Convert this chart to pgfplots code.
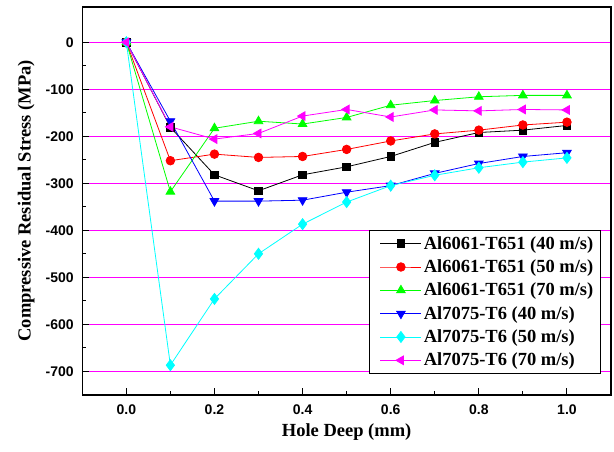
\documentclass[border=0pt]{standalone}
\usepackage{fontspec}
\setmainfont{Liberation Serif}
\setsansfont{Liberation Sans}
\usepackage{pgfplots}
\pgfplotsset{compat=1.18}
\definecolor{cgreen}{RGB}{0,255,0}
\definecolor{ccyan}{RGB}{0,255,255}
\definecolor{cmag}{RGB}{255,0,255}
\definecolor{cblue}{RGB}{0,0,255}
\definecolor{cred}{RGB}{255,0,0}
\begin{document}
\begin{tikzpicture}
\begin{axis}[name=ax, scale only axis, width=529pt, height=388pt,
  xmin=-0.1, xmax=1.1, ymin=-750, ymax=75,
  xtick={0,0.2,0.4,0.6,0.8,1.0}, minor x tick num=1,
  xticklabels={0.0,0.2,0.4,0.6,0.8,1.0},
  ytick={-700,-600,-500,-400,-300,-200,-100,0}, minor y tick num=1,
  yticklabels={-700,-600,-500,-400,-300,-200,-100,0},
  tick align=inside, tick pos=left,
  major tick length=7pt, minor tick length=4pt,
  axis line style={line width=1.4pt},
  every tick/.style={black, line width=1.1pt},
  ymajorgrids, major grid style={cmag, line width=0.9pt},
  xticklabel style={font=\sffamily\bfseries\fontsize{14}{16}\selectfont},
  yticklabel style={font=\sffamily\bfseries\fontsize{14}{16}\selectfont},
  xticklabel shift=6.8pt, yticklabel shift=5pt,
  xlabel={Hole Deep (mm)}, ylabel={Compressive Residual Stress (MPa)},
  label style={font=\bfseries\fontsize{18.5}{22}\selectfont},
  xlabel style={at={(axis description cs:0.5,-0.0954)}, anchor=center},
  ylabel style={at={(axis description cs:-0.106,0.5)}, anchor=center},
  legend style={at={(rel axis cs:0.9805,0.054)}, anchor=south east,
    font=\bfseries\fontsize{18.5}{22}\selectfont, draw=black, line width=0.8pt,
    row sep=5pt, inner xsep=5pt, inner ysep=4pt},
  legend cell align=left,
  legend image code/.code={\path (-6pt,0pt); \draw[mark repeat=2,mark phase=2] plot coordinates {(0pt,0pt)(20.5pt,0pt)(41pt,0pt)};},
  every axis plot/.append style={line width=0.8pt},
]
\addplot[black, mark=square*, mark size=3.8pt, mark options={fill=black, draw=black}] coordinates {
(0,0)(0.1,-181)(0.2,-282)(0.3,-316)(0.4,-282)(0.5,-265)(0.6,-243)(0.7,-213)(0.8,-192)(0.9,-187)(1.0,-177)};
\addlegendentry{Al6061-T651 (40 m/s)}
\addplot[cred, mark=*, mark size=4.3pt, mark options={fill=cred, draw=cred}] coordinates {
(0,0)(0.1,-252)(0.2,-238)(0.3,-245)(0.4,-243)(0.5,-228)(0.6,-210)(0.7,-195)(0.8,-187)(0.9,-176)(1.0,-170)};
\addlegendentry{Al6061-T651 (50 m/s)}
\addplot[cgreen, mark=triangle*, mark size=5pt, mark options={fill=cgreen, draw=cgreen}] coordinates {
(0,0)(0.1,-318)(0.2,-183)(0.3,-168)(0.4,-174)(0.5,-160)(0.6,-134)(0.7,-124)(0.8,-116)(0.9,-113)(1.0,-113)};
\addlegendentry{Al6061-T651 (70 m/s)}
\addplot[cblue, mark=triangle*, mark size=5pt, mark options={fill=cblue, draw=cblue, rotate=180}] coordinates {
(0,0)(0.1,-168)(0.2,-338)(0.3,-338)(0.4,-336)(0.5,-319)(0.6,-305)(0.7,-279)(0.8,-258)(0.9,-243)(1.0,-235)};
\addlegendentry{Al7075-T6 (40 m/s)}
\addplot[ccyan, mark=diamond*, mark size=5.5pt, mark options={fill=ccyan, draw=ccyan}] coordinates {
(0,0)(0.1,-687)(0.2,-546)(0.3,-450)(0.4,-387)(0.5,-340)(0.6,-305)(0.7,-283)(0.8,-267)(0.9,-255)(1.0,-246)};
\addlegendentry{Al7075-T6 (50 m/s)}
\addplot[cmag, mark=triangle*, mark size=5pt, mark options={fill=cmag, draw=cmag, rotate=90}] coordinates {
(0,0)(0.1,-180)(0.2,-206)(0.3,-194)(0.4,-157)(0.5,-143)(0.6,-159)(0.7,-144)(0.8,-146)(0.9,-143)(1.0,-144)};
\addlegendentry{Al7075-T6 (70 m/s)}
\end{axis}
\pgfresetboundingbox
\path ([shift={(-82.3pt,-57pt)}]ax.south west) rectangle ([shift={(3pt,7pt)}]ax.north east);
\end{tikzpicture}
\end{document}
